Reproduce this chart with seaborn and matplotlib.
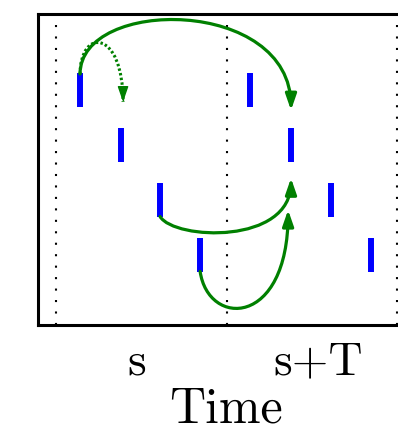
import matplotlib
matplotlib.use("Agg")
import matplotlib.pyplot as plt
from matplotlib.patches import FancyArrowPatch, PathPatch
from matplotlib.path import Path
import pandas as pd
import seaborn as sns

# Spike times (in units of the period, first period marker at 0) and the neuron row of each spike
spike_times = [0.141, 0.381, 0.610, 0.845, 1.138, 1.378, 1.613, 1.848]
spike_rows = [4, 3, 2, 1, 4, 3, 2, 1]
period_marks = [0, 1, 2]
tick_positions = [0.475, 1.537]
tick_labels = ["s", "s+T"]

# Causal links between spikes, drawn as cubic Bezier arrows.
# side: leave from the top (+1) or bottom (-1) of the source spike
# tip: height of the arrow tip, h1/h2: heights of the two handles
# c1: horizontal offset of the first handle, dx: horizontal nudge of the tip
links = [
    dict(src=0, dst=5, side=+1, tip=3.64, h1=5.71, h2=5.71, c1=0.0, dx=0.0, dotted=False),
    dict(src=0, dst=1, side=+1, tip=3.79, h1=5.14, h2=5.14, c1=0.0, dx=0.012, dotted=True),
    dict(src=2, dst=5, side=-1, tip=2.40, h1=1.27, h2=1.18, c1=0.085, dx=0.0, dotted=False),
    dict(src=3, dst=5, side=-1, tip=1.82, h1=-0.33, h2=-0.33, c1=0.047, dx=-0.017, dotted=False),
]

HALF = 0.3  # half length of a spike mark
GREEN = "#008000"
HEAD = "-|>,head_length=9.5,head_width=3.3"

sns.set_style("white")
plt.rcParams["font.family"] = ["cmr10", "DejaVu Serif"]
plt.rcParams["axes.formatter.use_mathtext"] = True
plt.rcParams["text.color"] = "black"
plt.rcParams["axes.labelcolor"] = "black"

fig = plt.figure(figsize=(3.98, 4.32), dpi=100)
ax = fig.add_axes([0.0955, 0.2477, 0.9146, 0.7199])

# period boundaries
for t in period_marks:
    ax.axvline(t, color="black", lw=1.5, linestyle=(0, (1, 4.5)), zorder=1)

# spikes
spikes = pd.DataFrame({"time": spike_times, "row": spike_rows})
sns.scatterplot(data=spikes, x="time", y="row", marker="|", s=565,
                linewidth=4.3, color="blue", ax=ax, zorder=3, legend=False)

# links
for ln in links:
    x0 = spike_times[ln["src"]]
    y0 = spike_rows[ln["src"]] + ln["side"] * HALF
    x1 = spike_times[ln["dst"]] + ln["dx"]
    verts = [(x0, y0), (x0 + ln["c1"], ln["h1"]), (x1, ln["h2"]), (x1, ln["tip"])]
    path = Path(verts, [Path.MOVETO, Path.CURVE4, Path.CURVE4, Path.CURVE4])
    if ln["dotted"]:
        body = PathPatch(path, fill=False, edgecolor=GREEN, lw=2.2,
                         linestyle=(0, (0.8, 0.75)), capstyle="butt", zorder=4)
        ax.add_patch(body)
        head_path = Path([(x1, ln["tip"] + 0.3), (x1, ln["tip"])])
        head = FancyArrowPatch(path=head_path, arrowstyle=HEAD, mutation_scale=1,
                               color=GREEN, lw=1.0, shrinkA=0, shrinkB=0, zorder=4)
        ax.add_patch(head)
    else:
        arrow = FancyArrowPatch(path=path, arrowstyle=HEAD, mutation_scale=1,
                                color=GREEN, lw=2.3, shrinkA=0, shrinkB=0, zorder=4)
        ax.add_patch(arrow)

ax.set_xlim(-0.1056, 2.029)
ax.set_ylim(-0.279, 5.396)
ax.set_yticks([])
ax.set_xticks(tick_positions, tick_labels)
ax.tick_params(axis="x", length=0, pad=12, labelsize=34, labelcolor="black")
ax.set_xlabel("Time", fontsize=36, va="baseline")
ax.set_ylabel("")
ax.xaxis.set_label_coords(0.516, -0.312)

for side in ["left", "right", "top", "bottom"]:
    ax.spines[side].set_visible(True)
    ax.spines[side].set_color("black")
    ax.spines[side].set_linewidth(2.2)

fig.savefig("out.png", dpi=100)
